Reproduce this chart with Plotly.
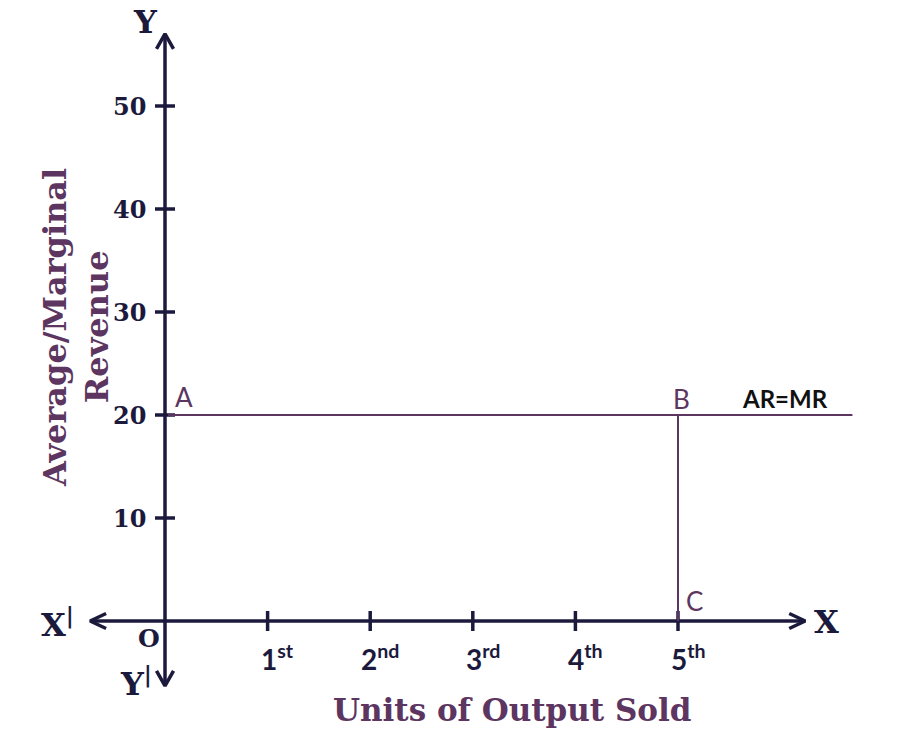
import plotly.graph_objects as go

# ---- data ----
y_tick_values = [10, 20, 30, 40, 50]
x_tick_values = [1, 2, 3, 4, 5]
x_tick_labels = ["1<sup>st</sup>", "2<sup>nd</sup>", "3<sup>rd</sup>", "4<sup>th</sup>", "5<sup>th</sup>"]
ar_mr_value = 20          # AR = MR price level
units_at_B = 5            # point B / C
ar_line_end = 6.7         # extent of AR=MR line
x_axis_min, x_axis_max = -0.73, 6.24
y_axis_min, y_axis_max = -6.3, 57.0

# ---- styles ----
AXIS = "#1c1a3c"
PURPLE = "#5c3560"
SERIF = "DejaVu Serif"
SANS = "Lato"

PX_X = 102.6   # px per x unit
PX_Y = 10.3    # px per y unit
X0_PX, Y0_PX = 165, 621
W, H = 921, 753

fig = go.Figure()

def line(x, y, color, width):
    fig.add_trace(go.Scatter(x=x, y=y, mode="lines", line=dict(color=color, width=width),
                             hoverinfo="skip", showlegend=False))

# axes
line([x_axis_min + 0.02, x_axis_max], [0, 0], AXIS, 3.5)
line([0, 0], [y_axis_min, y_axis_max - 0.2], AXIS, 3.5)

# arrowheads (open chevrons)
ax_len_x, ax_w_x = 16 / PX_X, 7.5 / PX_Y
ay_len_y, ay_w_x = 15 / PX_Y, 8.5 / PX_X
line([x_axis_max - ax_len_x, x_axis_max, x_axis_max - ax_len_x], [ax_w_x, 0, -ax_w_x], AXIS, 3.5)
line([x_axis_min + ax_len_x, x_axis_min, x_axis_min + ax_len_x], [ax_w_x, 0, -ax_w_x], AXIS, 3.5)
line([-ay_w_x, 0, ay_w_x], [y_axis_max - ay_len_y, y_axis_max, y_axis_max - ay_len_y], AXIS, 3.5)
line([-ay_w_x, 0, ay_w_x], [y_axis_min + ay_len_y, y_axis_min, y_axis_min + ay_len_y], AXIS, 3.5)

# ticks
for v in y_tick_values:
    line([-10 / PX_X, 10 / PX_X], [v, v], AXIS, 3.5)
for u in x_tick_values:
    line([u, u], [-10 / PX_Y, 10 / PX_Y], AXIS, 3.5)

# AR = MR line and B-C drop line
line([0.03, ar_line_end], [ar_mr_value, ar_mr_value], PURPLE, 2)
line([units_at_B, units_at_B], [0, ar_mr_value], PURPLE, 2)

ann = []
def text(x, y, t, size, color=AXIS, family=SERIF, bold=True, xanchor="center", yanchor="middle", xshift=0, yshift=0, textangle=0):
    ann.append(dict(x=x, y=y, xref="x", yref="y", text=(f"<b>{t}</b>" if bold else t), showarrow=False,
                    font=dict(size=size, color=color, family=family), xanchor=xanchor, yanchor=yanchor,
                    xshift=xshift, yshift=yshift, textangle=textangle))

for v in y_tick_values:
    text(-17 / PX_X, v, str(v), 24, xanchor="right")
for u, lab in zip(x_tick_values, x_tick_labels):
    text(u, -36 / PX_Y, lab, 28, family=SANS, xanchor="center", xshift=10)

# axis end letters
text(-20 / PX_X, (Y0_PX - 22) / PX_Y, "Y", 32)
text((826 - X0_PX) / PX_X, 0, "X", 32, yshift=-1)
text((57 - X0_PX) / PX_X, 0, "X<sup>|</sup>", 32, yshift=-2)
text((136 - X0_PX) / PX_X, -(682 - Y0_PX) / PX_Y, "Y<sup>|</sup>", 32)
text((149 - X0_PX) / PX_X, -(638 - Y0_PX) / PX_Y, "O", 25)

# point labels
text(8 / PX_X, ar_mr_value, "A", 26, color=PURPLE, family=SANS, bold=False, xanchor="left", yanchor="bottom", yshift=0)
text(units_at_B, ar_mr_value, "B", 26, color=PURPLE, family=SANS, bold=False, xanchor="center", yanchor="bottom", xshift=3, yshift=-2)
text(units_at_B, 0, "C", 26, color=PURPLE, family=SANS, bold=False, xanchor="left", yanchor="bottom", xshift=6, yshift=2)
text((785 - X0_PX) / PX_X, ar_mr_value, "AR=MR", 24, color="#111111", family=SANS, xanchor="center", yanchor="bottom", yshift=0)

# axis titles
text((512 - X0_PX) / PX_X, -(710 - Y0_PX) / PX_Y, "Units of Output Sold", 31, color=PURPLE)
text((76 - X0_PX) / PX_X, (Y0_PX - 328) / PX_Y, "Average/Marginal<br>Revenue", 32, color=PURPLE, textangle=-90)

fig.update_layout(
    width=W, height=H, margin=dict(l=0, r=0, t=0, b=0),
    paper_bgcolor="white", plot_bgcolor="white",
    xaxis=dict(visible=False, range=[-X0_PX / PX_X, (W - X0_PX) / PX_X], fixedrange=True),
    yaxis=dict(visible=False, range=[-(H - Y0_PX) / PX_Y, Y0_PX / PX_Y], fixedrange=True),
    annotations=ann, showlegend=False,
)

fig.write_html("out.html")
